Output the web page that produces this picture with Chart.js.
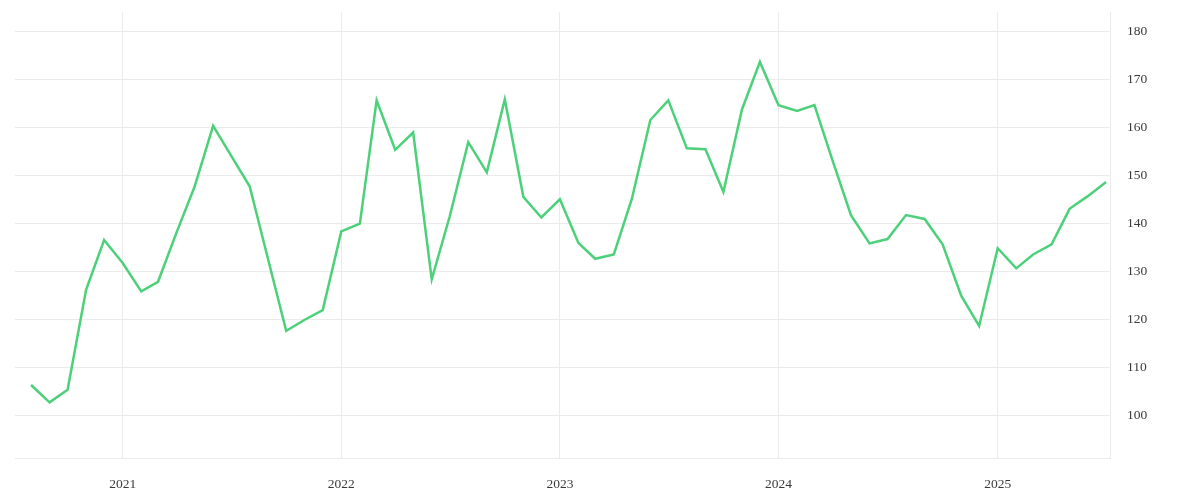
<!DOCTYPE html>
<html>
<head>
<meta charset="utf-8">
<script src="https://cdn.jsdelivr.net/npm/chart.js@4.4.1/dist/chart.umd.min.js"></script>
<style>
  html, body { margin: 0; padding: 0; background: #fff; }
  #wrap { width: 1200px; height: 500px; }
</style>
</head>
<body>
<div id="wrap"><canvas id="miChart" width="1200" height="500"></canvas></div>
<script>
// Fechas (primer día de cada mes) y valores
const months = [
  "2020-08-01", "2020-09-01", "2020-10-01", "2020-11-01", "2020-12-01",
  "2021-01-01", "2021-02-01", "2021-03-01", "2021-04-01", "2021-05-01", "2021-06-01",
  "2021-07-01", "2021-08-01", "2021-09-01", "2021-10-01", "2021-11-01", "2021-12-01",
  "2022-01-01", "2022-02-01", "2022-03-01", "2022-04-01", "2022-05-01", "2022-06-01",
  "2022-07-01", "2022-08-01", "2022-09-01", "2022-10-01", "2022-11-01", "2022-12-01",
  "2023-01-01", "2023-02-01", "2023-03-01", "2023-04-01", "2023-05-01", "2023-06-01",
  "2023-07-01", "2023-08-01", "2023-09-01", "2023-10-01", "2023-11-01", "2023-12-01",
  "2024-01-01", "2024-02-01", "2024-03-01", "2024-04-01", "2024-05-01", "2024-06-01",
  "2024-07-01", "2024-08-01", "2024-09-01", "2024-10-01", "2024-11-01", "2024-12-01",
  "2025-01-01", "2025-02-01", "2025-03-01", "2025-04-01", "2025-05-01", "2025-06-01",
  "2025-07-01"
];
const values = [
  106.3, 102.7, 105.3, 126.2, 136.5,
  131.7, 125.8, 127.8, 138.1, 147.6, 160.3,
  154.1, 147.7, 132.4, 117.6, 119.9, 121.9,
  138.3, 139.9, 165.6, 155.3, 158.9, 128.3,
  141.4, 156.9, 150.6, 165.8, 145.5, 141.2,
  145.0, 135.9, 132.6, 133.5, 145.0, 161.5,
  165.6, 155.6, 155.4, 146.5, 163.7, 173.6,
  164.6, 163.4, 164.6, 152.8, 141.7, 135.8,
  136.7, 141.7, 140.9, 135.6, 124.9, 118.6,
  134.8, 130.6, 133.5, 135.6, 143.0, 145.7,
  148.6
];
// Marcas de los ejes
const yearTicks = ["2021-01-01", "2022-01-01", "2023-01-01", "2024-01-01", "2025-01-01"];
const yTicks = [100, 110, 120, 130, 140, 150, 160, 170, 180];

// Convertir fecha a número de días
const toDay = (s) => Date.parse(s + "T00:00:00Z") / 86400000;

const points = months.map((m, i) => ({ x: toDay(m), y: values[i] }));
const gridColor = "#ebebeb";
const font = { family: "'Liberation Serif', serif", size: 13.5 };

new Chart(document.querySelector("#miChart"), {
  type: "line",
  data: {
    datasets: [{
      data: points,
      borderColor: "#4cd17a",
      borderWidth: 2.5,
      pointRadius: 0,
      tension: 0,
      fill: false
    }]
  },
  options: {
    responsive: false,
    animation: false,
    layout: { padding: { left: 15, top: 12, right: 0, bottom: 0 } },
    plugins: { legend: { display: false }, tooltip: { enabled: false } },
    scales: {
      x: {
        type: "linear",
        min: toDay("2021-01-01") - 179.8,
        max: toDay("2025-01-01") + 187.5,
        afterBuildTicks: (axis) => { axis.ticks = yearTicks.map(t => ({ value: toDay(t) })); },
        afterFit: (axis) => { axis.height = 42; axis.paddingLeft = 0; axis.paddingRight = 0; },
        grid: { color: gridColor, drawTicks: false, lineWidth: 1 },
        border: { display: true, color: gridColor },
        ticks: {
          padding: 18,
          color: "#3a3a3a",
          font: font,
          maxRotation: 0,
          callback: (v) => new Date(v * 86400000).getUTCFullYear()
        }
      },
      y: {
        position: "right",
        min: 91.1,
        max: 184.0,
        afterBuildTicks: (axis) => { axis.ticks = yTicks.map(v => ({ value: v })); },
        afterFit: (axis) => { axis.width = 90; axis.paddingTop = 0; axis.paddingBottom = 0; },
        grid: { color: gridColor, drawTicks: false, lineWidth: 1 },
        border: { display: true, color: gridColor },
        ticks: { padding: 17, color: "#3a3a3a", font: font }
      }
    }
  }
});
</script>
</body>
</html>
